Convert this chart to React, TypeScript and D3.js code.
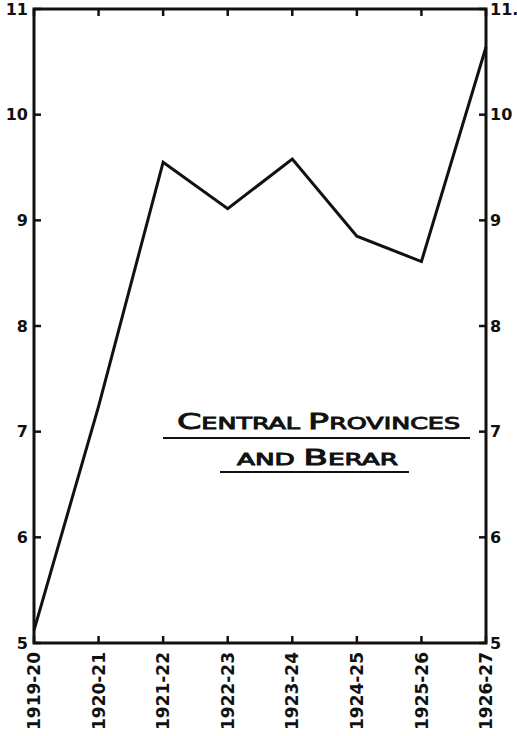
import React from 'react';
import * as d3 from 'd3';

const YEARS = ['1919-20', '1920-21', '1921-22', '1922-23', '1923-24', '1924-25', '1925-26', '1926-27'];
const VALUES = [5.12, 7.24, 9.55, 9.11, 9.58, 8.85, 8.61, 10.64];
const Y_TICKS = [5, 6, 7, 8, 9, 10, 11];

const W = 517;
const H = 736;
const INK = '#111';
const FONT = '"DejaVu Sans", sans-serif';

export default function App() {
  const left = 34, right = 486, top = 9, bottom = 643;

  const x = d3.scalePoint<string>().domain(YEARS).range([left, right]);
  const y = d3.scaleLinear().domain([5, 11]).range([bottom, top]);

  const line = d3.line<number>()
    .x((_, i) => x(YEARS[i]) ?? 0)
    .y(d => y(d));

  const tick = 7;

  return (
    <svg width={W} height={H} style={{ position: 'absolute', left: 0, top: 0, background: '#fff' }}>
      <rect x={0} y={0} width={W} height={H} fill="#fff" />

      {/* frame */}
      <rect x={left} y={top} width={right - left} height={bottom - top}
        fill="none" stroke={INK} strokeWidth={3} />

      {/* y ticks, both sides, pointing in */}
      {Y_TICKS.map(v => (
        <g key={'y' + v}>
          <line x1={left} x2={left + tick} y1={y(v)} y2={y(v)} stroke={INK} strokeWidth={2.5} />
          <line x1={right} x2={right - tick} y1={y(v)} y2={y(v)} stroke={INK} strokeWidth={2.5} />
          <text x={28} y={y(v)} dy="0.36em" textAnchor="end" fontFamily={FONT}
            fontWeight="bold" fontSize={16} fill={INK}>{v}</text>
          <text x={490} y={y(v)} dy="0.36em" textAnchor="start" fontFamily={FONT}
            fontWeight="bold" fontSize={16} fill={INK}>{v === 11 ? '11.' : v}</text>
        </g>
      ))}

      {/* x ticks top and bottom */}
      {YEARS.map(yr => {
        const px = x(yr) ?? 0;
        return (
          <g key={yr}>
            <line x1={px} x2={px} y1={bottom} y2={bottom - tick} stroke={INK} strokeWidth={2.5} />
            <line x1={px} x2={px} y1={top} y2={top + tick} stroke={INK} strokeWidth={2.5} />
            <text transform={`translate(${px},652) rotate(-90)`} dy="0.36em" textAnchor="end"
              fontFamily={FONT} fontWeight="bold" fontSize={17} fill={INK}>{yr}</text>
          </g>
        );
      })}

      {/* data line */}
      <path d={line(VALUES) ?? ''} fill="none" stroke={INK} strokeWidth={3} strokeLinejoin="miter" />

      {/* title */}
      <text x={177} y={429} textLength={283} lengthAdjust="spacingAndGlyphs"
        fontFamily={FONT} fill={INK} stroke={INK} strokeWidth={0.9}>
        <tspan fontSize={22}>C</tspan>
        <tspan fontSize={16}>ENTRAL </tspan>
        <tspan fontSize={22}>P</tspan>
        <tspan fontSize={16}>ROVINCES</tspan>
      </text>
      <line x1={163} x2={470} y1={438} y2={438} stroke={INK} strokeWidth={2.2} />
      <text x={237} y={465} textLength={161} lengthAdjust="spacingAndGlyphs"
        fontFamily={FONT} fill={INK} stroke={INK} strokeWidth={0.9}>
        <tspan fontSize={16}>AND </tspan>
        <tspan fontSize={22}>B</tspan>
        <tspan fontSize={16}>ERAR</tspan>
      </text>
      <line x1={220} x2={409} y1={472} y2={472} stroke={INK} strokeWidth={2.2} />
    </svg>
  );
}
